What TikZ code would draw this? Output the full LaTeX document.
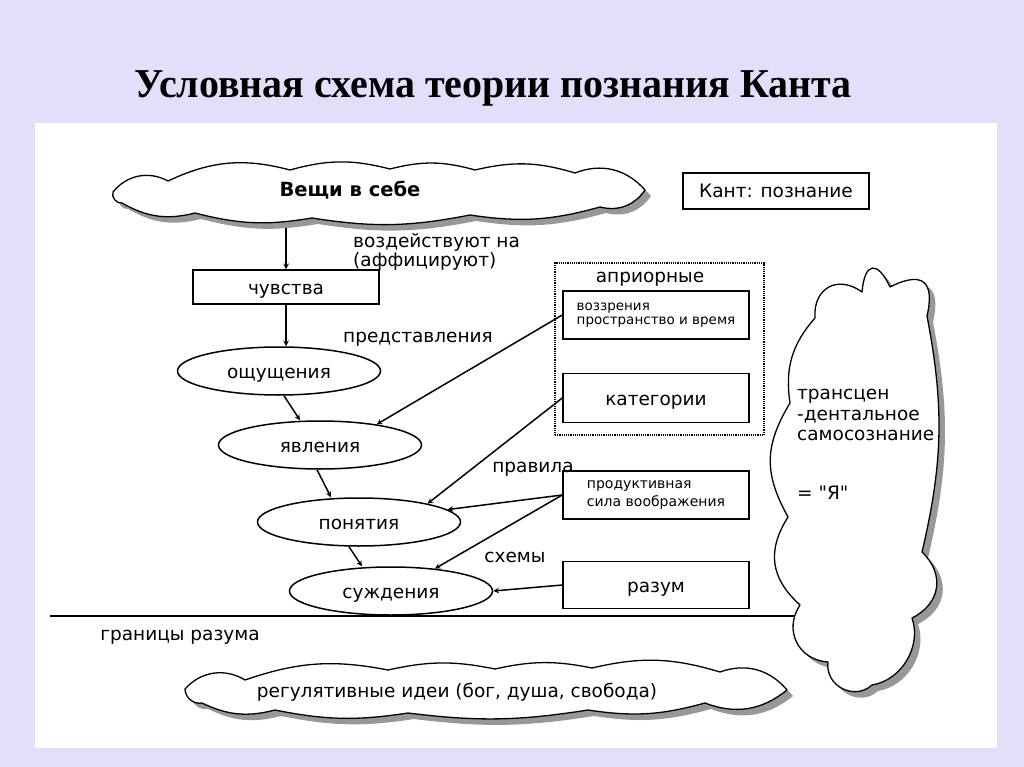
\documentclass[tikz,border=0pt]{standalone}
\usepackage{fontspec}
\setmainfont{DejaVu Sans}
\newfontfamily\titlefont[FakeStretch=0.974]{Liberation Serif}
\usetikzlibrary{shapes.geometric,shadows}
\definecolor{slidebg}{RGB}{225,223,250}

\begin{document}
\begin{tikzpicture}[x=1pt,y=-1pt,
		labelnode/.style={inner sep=0pt, font=\fontsize{18.5}{20}\selectfont},
		boxbase/.style={rectangle, draw, line width=1.5pt, minimum width=186pt, inner sep=0pt},
		squarednode/.style={boxbase, font=\fontsize{18.5}{20}\selectfont, text height=14pt, text depth=0pt},
		ovalnode/.style={ellipse, draw, line width=1.5pt, minimum width=203pt, minimum height=48pt, inner sep=0pt, font=\fontsize{18.5}{20}\selectfont, text height=14pt, text depth=0pt},
		cloudline/.style={draw, fill=white, line width=1.3pt, line join=round, drop shadow={shadow xshift=6pt, shadow yshift=-6pt, fill=black!80}},
		arrowline/.style={-stealth, line width=1.5pt},
		]
		\useasboundingbox (0,0) rectangle (1024,767);
		%Slide
		\fill[slidebg] (0,0) rectangle (1024,767);
		\fill[white] (35,123) rectangle (997,748);
		\node[font=\titlefont\bfseries\fontsize{41}{45}\selectfont, anchor=base, inner sep=0pt] (title) at (493,98) {Условная схема теории познания Канта};
		
		%Clouds
		\draw[cloudline] (113,192) to[bend left=40] (168,181) to[bend left=20] (290,170) to[bend left=15] (390,169) to[bend left=15] (475,170) to[bend left=15] (575,173) to[bend left=35] (645,190) to[bend left=35] (600,207) to[bend left=12] (470,215) to[bend left=10] (312,218) to[bend left=12] (195,213) to[bend left=22] (122,203) to[bend left=60] (113,192) -- cycle;
		\node[labelnode, font=\bfseries\fontsize{19.5}{20}\selectfont, anchor=base] (things) at (350,197) {Вещи в себе};
		\coordinate (thingsbottom) at (286,228);
		
		\draw[cloudline] (185,689) to[bend left=40] (245,680) to[bend left=15] (388,670) to[bend left=12] (495,669) to[bend left=12] (592,668) to[bend left=15] (720,672) to[bend left=35] (787,690) to[bend left=30] (705,703) to[bend left=12] (588,710) to[bend left=8] (408,713) to[bend left=10] (275,710) to[bend left=20] (202,703) to[bend left=50] (185,689) -- cycle;
		\node[labelnode, anchor=base] (ideas) at (457,697) {регулятивные идеи (бог, душа, свобода)};
		
		% limit of reason
		\draw[line width=2.4pt] (50,616) -- (812,616);
		\node[labelnode, anchor=base] (limit) at (180,640) {границы разума};
		
		\draw[cloudline] (815,318) to[bend left=65, distance=30pt] (862,292) to[bend left=75, distance=30pt] (890,287) to[bend left=65, distance=36pt] (927,316) to[bend left=12] (922,552) to[bend left=55, distance=32pt] (912,618) to[bend left=50, distance=30pt] (872,685) to[bend left=70, distance=24pt] (828,662) to[bend left=60, distance=30pt] (800,605) to[bend left=40, distance=40pt] (788,517) to[bend left=30, distance=50pt] (790,403) to[bend left=25, distance=35pt] (815,318) -- cycle;
		\node[labelnode, align=left, anchor=north west, font=\fontsize{18.5}{20.5}\selectfont] (self) at (797,389) {трансцен\\-дентальное\\самосознание\\[38pt]= \textquotedbl Я\textquotedbl};
		
		%Nodes
		\node[squarednode, line width=2.8pt, minimum height=36pt] (kant) at (776,191) {Кант: познание};
		
		\node[squarednode, minimum height=34pt] (feel) at (286,287) {чувства};
		\node[ovalnode] (sens) at (279,371) {ощущения};
		\node[ovalnode] (phen) at (320,445) {явления};
		\node[ovalnode] (conc) at (359,522) {понятия};
		\node[ovalnode] (judg) at (391,591) {суждения};
		
		\node[draw, densely dotted, line width=1.2pt, minimum width=209pt, minimum height=172pt, inner sep=0pt] (apriori) at (659.5,349) {};
		\node[labelnode, anchor=base] (aprioritext) at (650,282) {априорные};
		\node[boxbase, minimum height=48pt, align=left, font=\fontsize{13.5}{14.5}\selectfont] (intu) at (656,315) {воззрения\\пространство и время};
		\node[squarednode, minimum height=49pt] (cat) at (656,398) {категории};
		\node[boxbase, minimum height=48pt, align=left, font=\fontsize{14}{18}\selectfont] (imag) at (656,495) {продуктивная\\сила воображения};
		\node[squarednode, minimum height=47pt] (reason) at (656,585) {разум};
		
		\node[labelnode, align=left, anchor=north west, font=\fontsize{18.5}{17}\selectfont] (affect) at (353,233) {воздействуют на\\(аффицируют)};
		\node[labelnode, anchor=base] (repr) at (418,342) {представления};
		\node[labelnode, anchor=base] (rules) at (533,472) {правила};
		\node[labelnode, anchor=base] (schemes) at (515,562) {схемы};
		
		%Lines
		\draw[arrowline] (thingsbottom) -- (feel.north);
		\draw[arrowline] (feel.south) -- (feel.south |- sens.north);
		\draw[arrowline] ([xshift=5pt]sens.south) -- ([xshift=-20pt]phen.north);
		\draw[arrowline] ([xshift=-3pt]phen.south) -- ([xshift=-28pt]conc.north);
		\draw[arrowline] ([xshift=-10pt]conc.south) -- ([xshift=-29pt]judg.north);
		\draw[arrowline] (intu.west) -- (phen.20);
		\draw[arrowline] (cat.west) -- (conc.15);
		\draw[arrowline] (imag.west) -- (conc.8);
		\draw[arrowline] (imag.west) -- (judg.27);
		\draw[arrowline] (reason.west) -- (judg.east);
		
\end{tikzpicture}
\end{document}
